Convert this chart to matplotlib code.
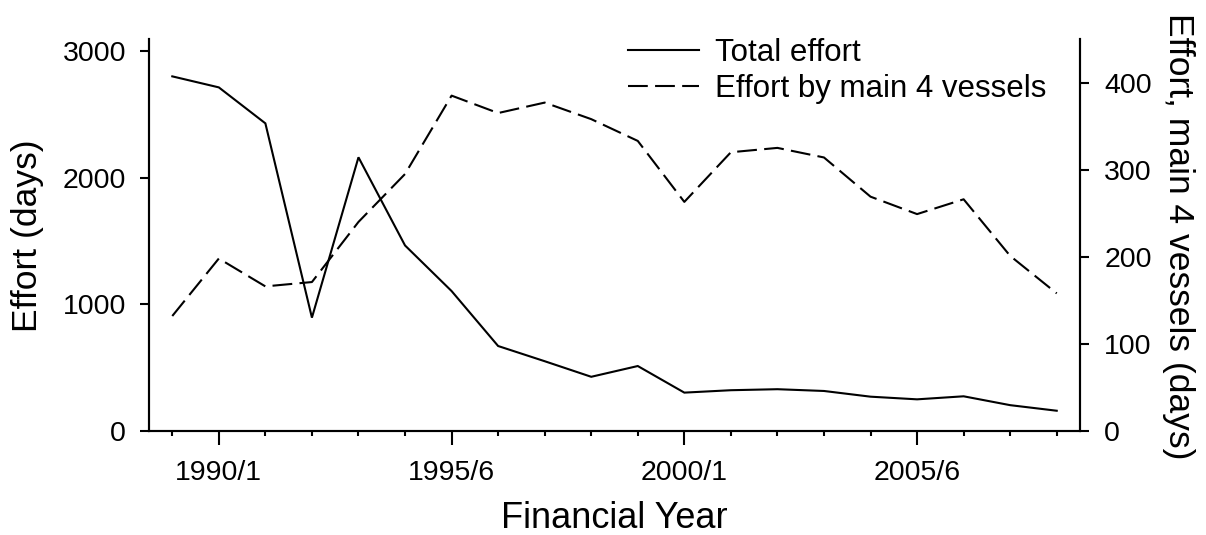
# Fishing effort by financial year, total and main 4 vessels

import numpy as np
import matplotlib
matplotlib.use("Agg")
import matplotlib.pyplot as plt

plt.rcParams['font.family'] = ['Liberation Sans', 'DejaVu Sans']

# Data
years = [1989, 1990, 1991, 1992, 1993, 1994, 1995, 1996, 1997, 1998,
         1999, 2000, 2001, 2002, 2003, 2004, 2005, 2006, 2007, 2008]
total_effort = [2800, 2713, 2429, 895, 2161, 1465, 1105, 671, 551, 428,
                513, 303, 322, 330, 316, 271, 250, 274, 204, 160]
main4_effort = [132, 198, 166, 171, 240, 295, 385, 365, 377, 358,
                333, 263, 320, 325, 314, 269, 249, 266, 201, 158]
tick_years = [1990, 1995, 2000, 2005]
tick_labels = ["1990/1", "1995/6", "2000/1", "2005/6"]

fig = plt.figure(figsize=(12.06, 5.35), dpi=100)
ax = fig.add_axes([149/1206, 104/535, 931/1206, 392/535])
ax2 = ax.twinx()

l1, = ax.plot(years, total_effort, color='black', lw=1.5, solid_joinstyle='miter')
l2, = ax2.plot(years, main4_effort, color='black', lw=1.5, dashes=(9.5, 3.5))

ax.set_xlim(1988.5, 2008.5)
ax.set_ylim(0, 3095)
ax2.set_ylim(0, 450)

ax.set_xticks(tick_years)
ax.set_xticklabels(tick_labels)
ax.set_xticks(years, minor=True)
ax.set_yticks([0, 1000, 2000, 3000])
ax2.set_yticks([0, 100, 200, 300, 400])

for a in (ax, ax2):
    a.spines['top'].set_visible(False)
    for s in a.spines.values():
        s.set_linewidth(1.5)

ax.tick_params(axis='x', which='major', length=10, width=1.5, pad=11, labelsize=20.5)
ax.tick_params(axis='x', which='minor', length=3.5, width=1.5)
ax.tick_params(axis='y', length=6.5, width=1.5, pad=10, labelsize=20.5)
ax2.tick_params(axis='y', length=6.5, width=1.5, pad=11, labelsize=20.5)

# axis titles
fig.text(614.5/1206, 1 - 528/535, "Financial Year", ha='center', va='baseline', fontsize=26)
fig.text(28/1206, 1 - 236/535, "Effort (days)", ha='center', va='center',
         rotation=90, fontsize=25.5)
fig.text(1178/1206, 1 - 236/535, "Effort, main 4 vessels (days)", ha='center', va='center',
         rotation=270, fontsize=25.5)

ax.legend([l1, l2], ["Total effort", "Effort by main 4 vessels"],
          loc='upper left', bbox_to_anchor=((615 - 149)/931, 1.035),
          frameon=False, fontsize=22.5, handlelength=2.3, handletextpad=0.5,
          labelspacing=0.2, borderaxespad=0)

fig.savefig("out.png", dpi=100)
